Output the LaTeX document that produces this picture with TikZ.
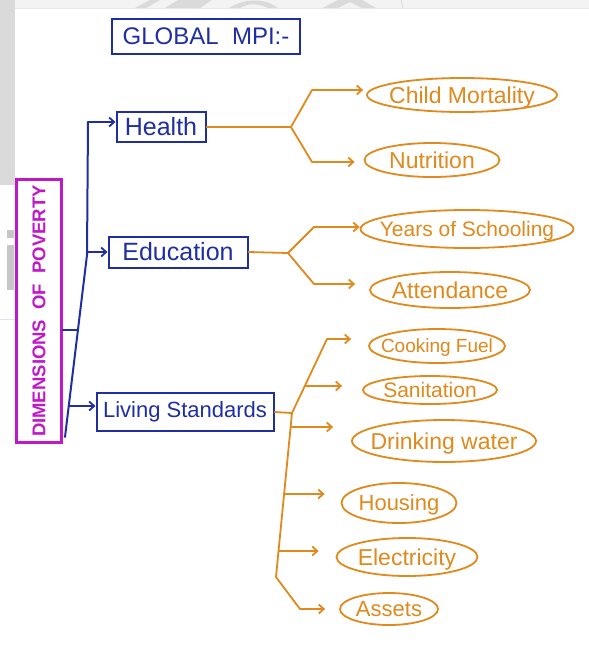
\documentclass[tikz,border=0pt]{standalone}
\usepackage{fontspec}
\setmainfont{Liberation Sans}
\usetikzlibrary{arrows.meta,shapes.geometric}
\definecolor{penblue}{HTML}{1F2FA3}
\definecolor{penorange}{HTML}{E0891C}
\definecolor{penmagenta}{HTML}{C018C8}
\definecolor{wmgray}{HTML}{DADADA}
\definecolor{bandgray}{HTML}{F3F3F3}
\newcommand{\fsz}[1]{\fontsize{#1}{#1}\selectfont}
% text that does not widen its ellipse: zero-size box, optically centred
\newcommand{\ovaltext}[1]{\smash{\makebox[0pt]{\raisebox{-0.36em}{#1}}}}

\begin{document}
\begin{tikzpicture}[x=1pt,y=-1pt,
  bline/.style={penblue, line width=2pt, line join=round, line cap=round},
  oline/.style={penorange, line width=1.8pt, line join=round, line cap=round},
  tip/.style={-{Straight Barb[length=5pt,width=9pt,line width=1.8pt]}},
  bluebox/.style={rectangle, draw=penblue, line width=2pt, text=penblue,
    inner sep=0pt, font=\fsz{25}},
  magbox/.style={rectangle, draw=penmagenta, line width=2.2pt, text=penmagenta,
    inner sep=0pt, font=\bfseries\fsz{18.5}},
  leaf/.style={ellipse, draw=penorange, line width=1.8pt, text=penorange,
    inner sep=0pt, font=\fsz{22}}]

\useasboundingbox (0,0) rectangle (589,657);
\fill[white] (0,0) rectangle (589,657);

% faint backdrop marks along the top and left edges
\fill[bandgray] (0,0) rectangle (589,8);
\draw[gray!18, line width=0.8pt] (15,8.5) -- (589,8.5);
\fill[wmgray] (0,0) rectangle (15,185);
\fill[wmgray] (135,8) -- (150,0) -- (160,0) -- (146,8) -- cycle;
\fill[wmgray] (165,8) -- (178,0) -- (212,0) -- (200,8) -- cycle;
\fill[wmgray] (229,8) .. controls (245,-2) and (265,-2) .. (278,8) -- (268,8) .. controls (258,3) and (248,3) .. (240,8) -- cycle;
\fill[wmgray] (323,8) -- (338,0) -- (362,0) -- (376,8) -- (362,8) -- (350,2) -- (338,8) -- cycle;
\draw[gray!30, line width=0.8pt] (401,0) -- (403,8);
\fill[gray!45] (7,230) rectangle (14,238);
\fill[gray!45] (7,245) rectangle (14,290);
\draw[gray!20, line width=0.8pt] (0,319) -- (15,319);

% title
\node[bluebox, minimum width=188pt, minimum height=35pt, font=\fsz{24}]
  (title) at (206,36) {GLOBAL\ \ MPI:-};

% dimensions
\node[magbox, rotate=90, minimum width=263pt, minimum height=45pt] (dim) at (39,311)
  {DIMENSIONS\ \ OF\ \ POVERTY};
\node[bluebox, minimum width=89pt, minimum height=30pt] (health) at (161,127) {Health};
\node[bluebox, minimum width=139pt, minimum height=31pt] (edu) at (178,252) {Education};
\node[bluebox, minimum width=177pt, minimum height=38pt, font=\fsz{22}]
  (liv) at (185,412) {Living Standards};

% indicators
\node[leaf, minimum width=190pt, minimum height=34pt, font=\fsz{23}] (cm) at (462,95) {\ovaltext{Child Mortality}};
\node[leaf, minimum width=135pt, minimum height=34pt, font=\fsz{23}] (nu) at (432,160) {\ovaltext{Nutrition}};
\node[leaf, minimum width=213pt, minimum height=38pt, font=\fsz{21}] (ys) at (467,229) {\ovaltext{Years of Schooling}};
\node[leaf, minimum width=160pt, minimum height=36pt, font=\fsz{23}] (at) at (450,290) {\ovaltext{Attendance}};
\node[leaf, minimum width=136pt, minimum height=34pt, font=\fsz{19}] (cf) at (437,346) {\ovaltext{Cooking Fuel}};
\node[leaf, minimum width=134pt, minimum height=28pt, font=\fsz{21}] (sa) at (430,390) {\ovaltext{Sanitation}};
\node[leaf, minimum width=184pt, minimum height=42pt, font=\fsz{23}] (dw) at (444,441) {\ovaltext{Drinking water}};
\node[leaf, minimum width=115pt, minimum height=40pt, font=\fsz{22}] (ho) at (399,503) {\ovaltext{Housing}};
\node[leaf, minimum width=141pt, minimum height=38pt, font=\fsz{23}] (el) at (407,557) {\ovaltext{Electricity}};
\node[leaf, minimum width=98pt, minimum height=32pt, font=\fsz{22}] (as) at (389,609) {\ovaltext{Assets}};

% blue spine and its arrows
\coordinate (bt) at (88,122);
\coordinate (bm) at (87,255);
\coordinate (bb) at (65,437);
\coordinate (se) at (87,252);
\coordinate (sd) at (77,330);
\coordinate (sl) at (69,406);
\draw[bline] (bt) -- (bm) -- (bb);
\draw[bline, tip] (bt) -- (bt -| health.west);
\draw[bline, tip] (se) -- (se -| edu.west);
\draw[bline, tip] (sl) -- (sl -| liv.west);
\draw[bline] (sd) -- (sd -| dim.south);

% health branches
\coordinate (hf) at (291,127);
\coordinate (hu) at (312,90);
\coordinate (hd) at (312,162);
\draw[oline] (health.east) -- (hf);
\draw[oline, tip, shorten >=3pt] (hf) -- (hu) -- (hu -| cm.west);
\draw[oline, tip, shorten >=9pt] (hf) -- (hd) -- (hd -| nu.west);

% education branches
\coordinate (ef) at (288,253);
\coordinate (eu) at (314,227);
\coordinate (ed) at (314,284);
\draw[oline] (edu.east) -- (ef);
\draw[oline, tip] (ef) -- (eu) -- (eu -| ys.west);
\draw[oline, tip, shorten >=14pt] (ef) -- (ed) -- (ed -| at.west);

% living standards branches
\coordinate (lf) at (292,413);
\coordinate (lt) at (327,339);
\coordinate (lbot) at (276,577);
\coordinate (lsa) at (305,386);
\coordinate (ldw) at (291,427);
\coordinate (lho) at (284,494);
\coordinate (lel) at (279,551);
\coordinate (las) at (300,609);
\draw[oline] (liv.east) -- (lf);
\draw[oline, tip, shorten >=17pt] (lf) -- (lt) -- (lt -| cf.west);
\draw[oline] (lf) -- (lbot);
\draw[oline, tip, shorten >=20pt] (lsa) -- (lsa -| sa.west);
\draw[oline, tip, shorten >=18pt] (ldw) -- (ldw -| dw.west);
\draw[oline, tip, shorten >=16pt] (lho) -- (lho -| ho.west);
\draw[oline, tip, shorten >=17pt] (lel) -- (lel -| el.west);
\draw[oline, tip, shorten >=14pt] (lbot) -- (las) -- (las -| as.west);
\end{tikzpicture}
\end{document}
